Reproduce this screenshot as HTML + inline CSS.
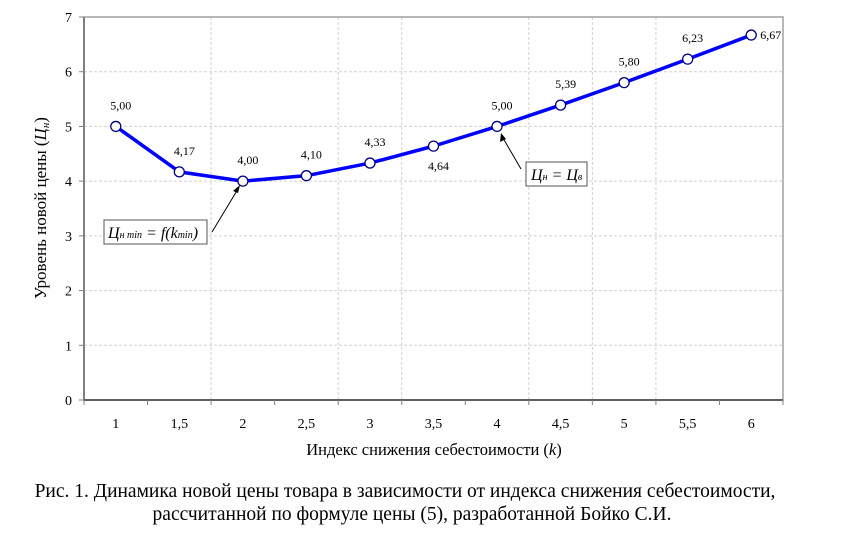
<!DOCTYPE html>
<html><head><meta charset="utf-8"><style>
body{margin:0;background:#fff;width:842px;height:542px;overflow:hidden}
svg{font-family:"Liberation Serif",serif}
</style></head><body>
<svg width="842" height="542">
<g id="grid"></g>
<rect x="84" y="17" width="699" height="383" fill="none" stroke="#a0a0a0" stroke-width="1.5"/>
<line x1="84" y1="17" x2="84" y2="400" stroke="#808080" stroke-width="2"/>
<line x1="84" y1="400" x2="783" y2="400" stroke="#606060" stroke-width="2"/>
<g id="axes" font-size="14"></g>
<polyline id="line" fill="none" stroke="#0000ff" stroke-width="3.5" stroke-linejoin="round"/>
<g id="pts"></g>
<text x="46" y="208" font-size="17" text-anchor="middle" transform="rotate(-90 46 208)">Уровень новой цены  (<tspan font-style="italic">Ц<tspan font-size="11" dy="3">н</tspan></tspan><tspan dy="-3">)</tspan></text>
<text x="434" y="455" font-size="16.5" text-anchor="middle">Индекс снижения себестоимости (<tspan font-style="italic">k</tspan>)</text>
<g>
<line x1="212" y1="232" x2="238" y2="189" stroke="#000"/>
<polygon points="240,185 233,191 238,193" fill="#000"/>
<rect x="104" y="220" width="103" height="24" fill="#fff" stroke="#555"/>
<text x="108" y="238" font-size="16" font-style="italic">Ц<tspan font-size="10">н min</tspan> = f(k<tspan font-size="10">min</tspan>)</text>
</g>
<g>
<line x1="521" y1="169" x2="503" y2="138" stroke="#000"/>
<polygon points="501,133 500,142 506,139" fill="#000"/>
<rect x="526" y="162" width="61" height="24" fill="#fff" stroke="#555"/>
<text x="531" y="180" font-size="16" font-style="italic">Ц<tspan font-size="10">н</tspan> = Ц<tspan font-size="10">в</tspan></text>
</g>
<text x="405" y="497" font-size="19.5" text-anchor="middle">Рис. 1. Динамика новой цены товара в зависимости от индекса снижения себестоимости,</text>
<text x="412" y="520" font-size="19.5" text-anchor="middle">рассчитанной по формуле цены (5), разработанной Бойко С.И.</text>
</svg>
<script>
const categories=["1","1,5","2","2,5","3","3,5","4","4,5","5","5,5","6"];
const values=[5.00,4.17,4.00,4.10,4.33,4.64,5.00,5.39,5.80,6.23,6.67];
const labels=["5,00","4,17","4,00","4,10","4,33","4,64","5,00","5,39","5,80","6,23","6,67"];
const yTicks=[0,1,2,3,4,5,6,7];
const NS="http://www.w3.org/2000/svg";
const L=84,R=783,T=17,B=400;
const bandW=(R-L)/categories.length;
const x=i=>L+bandW*(i+0.5);
const y=v=>B-(v/7)*(B-T);
function mk(t,a,p){const e=document.createElementNS(NS,t);for(const k in a)e.setAttribute(k,a[k]);p.appendChild(e);return e;}
const grid=document.getElementById('grid'),axes=document.getElementById('axes'),pts=document.getElementById('pts');
yTicks.forEach(v=>{
 if(v>0&&v<7){const g=mk('line',{x1:L,x2:R,y1:y(v),y2:y(v),stroke:'#d0d0d0','stroke-dasharray':'3,2'},grid);
 
 }
 const tk=mk('line',{x1:L-5,x2:L,y1:y(v),y2:y(v),stroke:'#808080'},axes);
 
 
 const t=mk('text',{x:L-12,y:y(v)+5,'text-anchor':'end'},axes);t.textContent=v;
 
 
});
[2,4,5,7,8,9].forEach(b=>{const g=mk('line',{x1:L+bandW*b,x2:L+bandW*b,y1:T,y2:B,stroke:'#d0d0d0','stroke-dasharray':'3,2'},grid);
 
 });
for(let b=0;b<=categories.length;b++){const tk=mk('line',{x1:L+bandW*b,x2:L+bandW*b,y1:B,y2:B+5,stroke:'#808080'},axes);
 
 }
categories.forEach((c,i)=>{const t=mk('text',{x:x(i),y:428,'text-anchor':'middle'},axes);t.textContent=c;
 
 });
document.getElementById('line').setAttribute('points',values.map((v,i)=>x(i)+','+y(v)).join(' '));
values.forEach((v,i)=>{
 const c=mk('circle',{cx:x(i),cy:y(v),r:5,fill:'#fff',stroke:'#000080','stroke-width':1.3},pts);
 
 
 let lx=x(i)+5,ly=y(v)-17,anc='middle';
 if(i===5){ly=y(v)+24;}
 if(i===10){lx=x(i)+9;ly=y(v)+4;anc='start';}
 const t=mk('text',{x:lx,y:ly,'text-anchor':anc,'font-size':12},pts);t.textContent=labels[i];
 
 
});
</script>
</body></html>
